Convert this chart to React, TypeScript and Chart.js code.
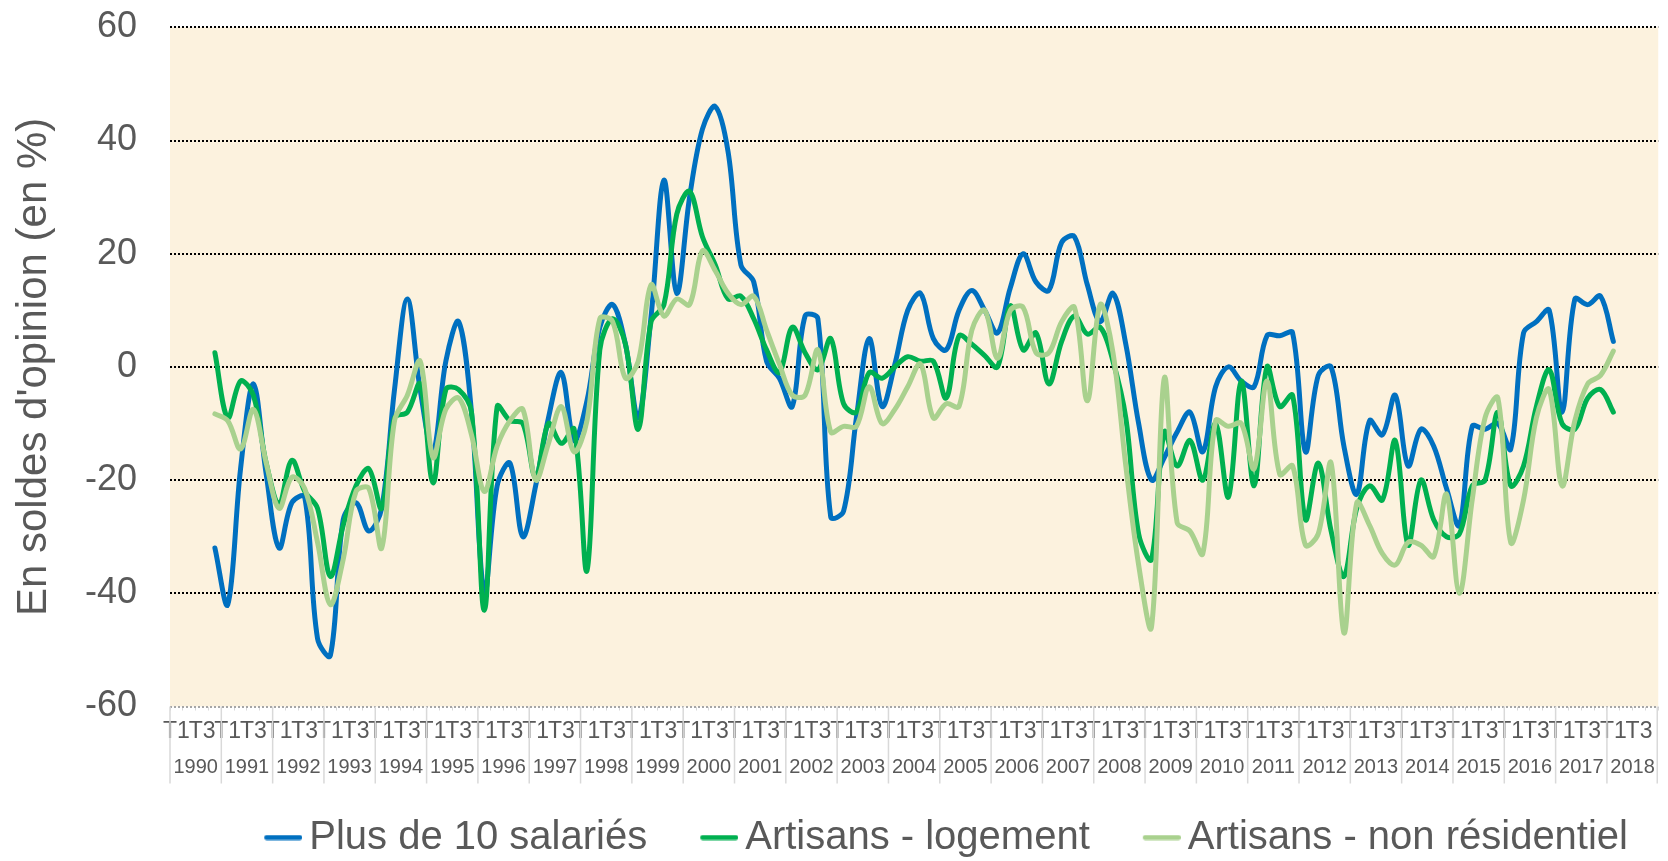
import React, { useEffect, useRef } from 'react';
import { Chart, registerables } from 'chart.js';

Chart.register(...registerables);

const years = [
  '1990', '1991', '1992', '1993', '1994', '1995', '1996', '1997', '1998', '1999',
  '2000', '2001', '2002', '2003', '2004', '2005', '2006', '2007', '2008', '2009',
  '2010', '2011', '2012', '2013', '2014', '2015', '2016', '2017', '2018',
];
const quarterNames = ['T1', 'T2', 'T3', 'T4'];
const quarterLabels = years.flatMap(() => quarterNames);
// first value is 1990 T4
const firstIndex = 3;

const plus10 = [
  -32, -42, -18, -3, -19, -32, -24, -23, -48, -51,
  -27, -24, -29, -25, -4, 12, -4, -15, 1, 8,
  -8, -40, -21, -17, -30, -21, -9, -1, -13, -6,
  7, 11, 4, -9, 9, 33, 13, 30, 42, 46,
  38, 18, 15, 1, -2, -7, 9, 8.5, -26.5, -25.5,
  -9, 5, -7, 0.5, 10, 13, 5, 3, 10, 13.5,
  10, 6, 14, 20, 15, 13.5, 22, 23, 14.5, 8,
  13, 4, -10, -20, -16, -11.5, -8, -15, -3.5, 0,
  -2.5, -3.5, 5.5, 5.5, 6, -15, -1.5, 0, -14, -22.5,
  -9.5, -12, -5, -17.5, -11, -14, -21.5, -28, -10.5, -11,
  -10, -14.5, 6, 8, 10, -8, 12, 11, 12.5, 4.5,
];

const logement = [
  2.5, -9, -2.5, -5, -17, -24, -16.5, -22, -25, -37,
  -28, -21, -18, -25, -9, -8, -3, -20.5, -4, -4,
  -8, -43, -7, -9.5, -10, -19.5, -10, -13.5, -11, -36,
  3, 8.5, 4, -11, 8, 11, 27, 31, 23, 18,
  12, 12.5, 8.5, 3, -1, 7, 2.5, -0.5, 5, -6.5,
  -8, -1, -2, 0, 1.8, 1, 1, -5.5, 5.5, 4,
  2, 0, 10.8, 3, 6, -3, 4.5, 9, 5.8, 7,
  1, -9, -29.5, -34, -11.5, -17.5, -13, -20, -10, -23,
  -2.5, -21, 0, -7, -5, -27, -17, -29, -37, -25,
  -21, -23.5, -13, -31.5, -20, -27, -30, -29.5, -21, -20,
  -8, -21, -17.5, -7, -0.5, -10, -11, -5.5, -4, -8,
];

const nonResidentiel = [
  -8.3, -9.5, -14.5, -7.5, -17, -25, -19.5, -21.5, -31, -42,
  -34, -22, -21.5, -32, -9.5, -5, 1, -16, -7.5, -5.5,
  -12, -22, -14, -9.5, -7.5, -20, -13.5, -7, -15, -9.5,
  8.5, 8, -2, 1, 14.5, 9, 12, 11, 20.5, 17,
  13, 11, 12.5, 6.5, 0.5, -5, -5, 3, -11.5, -10.5,
  -10.5, -3.5, -10, -7.5, -3.5, 0.5, -9, -6.5, -7, 6.5,
  10, 1.5, 10, 10.5, 2.5, 2.5, 8, 10.5, -6, 11,
  2.5, -17.5, -35, -46, -2, -27.5, -29, -33, -9.5, -10.5,
  -10, -18, -2.5, -19, -17.5, -31.5, -29.5, -17, -47, -24,
  -28, -33, -35, -31, -31.5, -33.5, -22.5, -40, -23.5, -9,
  -5.5, -31, -23.5, -9, -4, -21, -9.5, -3, -1.5, 2.8,
];

const seriesNames = ['Plus de 10 salariés', 'Artisans - logement', 'Artisans - non résidentiel'];
const seriesColors = ['#0070C0', '#00B050', '#A9D18E'];
const seriesValues = [plus10, logement, nonResidentiel];

const yTicks = [-60, -40, -20, 0, 20, 40, 60];

const FONT = "'Liberation Sans', Arial, Helvetica, sans-serif";
const TEXT = '#595959';

function padSeries(vals: number[]): (number | null)[] {
  const out: (number | null)[] = new Array(quarterLabels.length).fill(null);
  vals.forEach((v, k) => {
    out[firstIndex + k] = v;
  });
  return out;
}

// legend marker: a short thick round-capped line, placed in the right part of the
// marker canvas so that it sits close to the label text
function lineMarker(color: string): HTMLCanvasElement {
  const c = document.createElement('canvas');
  c.width = 64;
  c.height = 6;
  const g = c.getContext('2d')!;
  g.strokeStyle = color;
  g.lineWidth = 5;
  g.lineCap = 'round';
  g.beginPath();
  g.moveTo(28.5, 3);
  g.lineTo(61.5, 3);
  g.stroke();
  return c;
}

const plotBg = {
  id: 'plotBg',
  beforeDraw(chart: any) {
    const { ctx, chartArea: a } = chart;
    ctx.save();
    ctx.fillStyle = '#FCF2DE';
    ctx.fillRect(a.left, a.top, a.right - a.left, a.bottom - a.top);
    ctx.restore();
  },
};

const yearDividers = {
  id: 'yearDividers',
  afterDraw(chart: any) {
    const { ctx } = chart;
    const x = chart.scales.x;
    const n = quarterLabels.length;
    const w = x.width / n;
    ctx.save();
    ctx.strokeStyle = '#D9D9D9';
    ctx.lineWidth = 1.5;
    for (let k = 0; k <= n; k += 4) {
      const px = Math.min(x.left + k * w, x.right - 1);
      ctx.beginPath();
      ctx.moveTo(px, x.top);
      ctx.lineTo(px, x.top + 77);
      ctx.stroke();
    }
    ctx.restore();
  },
};

export default function App() {
  const ref = useRef<HTMLCanvasElement | null>(null);

  useEffect(() => {
    if (!ref.current) return;
    Chart.defaults.font.family = FONT;
    const markers = seriesColors.map(lineMarker);
    const chart = new Chart(ref.current, {
      type: 'line',
      data: {
        labels: quarterLabels,
        datasets: seriesValues.map((vals, i) => ({
          label: seriesNames[i],
          data: padSeries(vals),
          borderColor: seriesColors[i],
          backgroundColor: seriesColors[i],
          borderWidth: 5,
          borderCapStyle: 'round',
          borderJoinStyle: 'round',
          pointRadius: 0,
          pointHoverRadius: 0,
          tension: 0.35,
          fill: false,
          order: 3 - i,
          xAxisID: 'x',
        })),
      },
      options: {
        responsive: false,
        animation: false,
        devicePixelRatio: 1,
        layout: { padding: { top: 0, right: 0, bottom: 0, left: 0 } },
        scales: {
          x: {
            type: 'category',
            position: 'bottom',
            offset: true,
            grid: {
              display: true,
              drawOnChartArea: false,
              drawTicks: true,
              tickLength: 4,
              color: '#D9D9D9',
              offset: true,
            },
            border: { display: false },
            ticks: {
              autoSkip: false,
              maxRotation: 0,
              minRotation: 0,
              padding: 7,
              color: TEXT,
              font: { size: 23, family: FONT },
              callback(this: any, value: any) {
                const l = this.getLabelForValue(value);
                return l === 'T1' || l === 'T3' ? l : '';
              },
            },
            afterFit(scale: any) {
              scale.height = 38;
            },
          },
          x2: {
            type: 'category',
            position: 'bottom',
            labels: years,
            offset: true,
            grid: { display: false, drawTicks: false },
            border: { display: false },
            ticks: {
              autoSkip: false,
              maxRotation: 0,
              minRotation: 0,
              padding: 13,
              color: TEXT,
              font: { size: 20, family: FONT, lineHeight: 1 },
            },
            afterFit(scale: any) {
              scale.height = 33;
            },
          },
          y: {
            min: -60,
            max: 60,
            afterBuildTicks(scale: any) {
              scale.ticks = yTicks.map((v) => ({ value: v }));
            },
            grid: {
              drawTicks: false,
              lineWidth: 2,
              color: (ctx: any) => (ctx.tick && ctx.tick.value === -60 ? '#A6A6A6' : '#000000'),
            },
            border: { display: false, dash: [2, 2] },
            ticks: {
              padding: 33,
              color: TEXT,
              font: { size: 36, family: FONT },
            },
            title: {
              display: true,
              text: "En soldes d'opinion (en %)",
              color: TEXT,
              font: { size: 42, family: FONT },
              padding: { top: 9, bottom: 0 },
            },
            afterFit(scale: any) {
              scale.width = 170;
              scale.paddingTop = 27.3;
              scale.paddingBottom = 0;
            },
          },
        },
        plugins: {
          legend: {
            display: true,
            position: 'bottom',
            align: 'end',
            maxHeight: 83.5,
            labels: {
              color: TEXT,
              font: { size: 40, family: FONT },
              usePointStyle: true,
              boxWidth: 38,
              boxHeight: 6,
              padding: 40,
              sort: (a: any, b: any) => a.datasetIndex - b.datasetIndex,
              generateLabels: (c: any) =>
                c.data.datasets.map((d: any, i: number) => ({
                  text: d.label,
                  fillStyle: d.borderColor,
                  strokeStyle: d.borderColor,
                  lineWidth: 0,
                  pointStyle: markers[i],
                  hidden: false,
                  datasetIndex: i,
                  fontColor: TEXT,
                })),
            },
          },
          tooltip: { enabled: false },
        },
      },
      plugins: [plotBg, yearDividers],
    } as any);
    return () => chart.destroy();
  }, []);

  return (
    <div style={{ position: 'fixed', left: 0, top: 0, width: 1668, height: 861, background: '#fff' }}>
      <canvas ref={ref} width={1668} height={861} style={{ display: 'block' }} />
    </div>
  );
}
